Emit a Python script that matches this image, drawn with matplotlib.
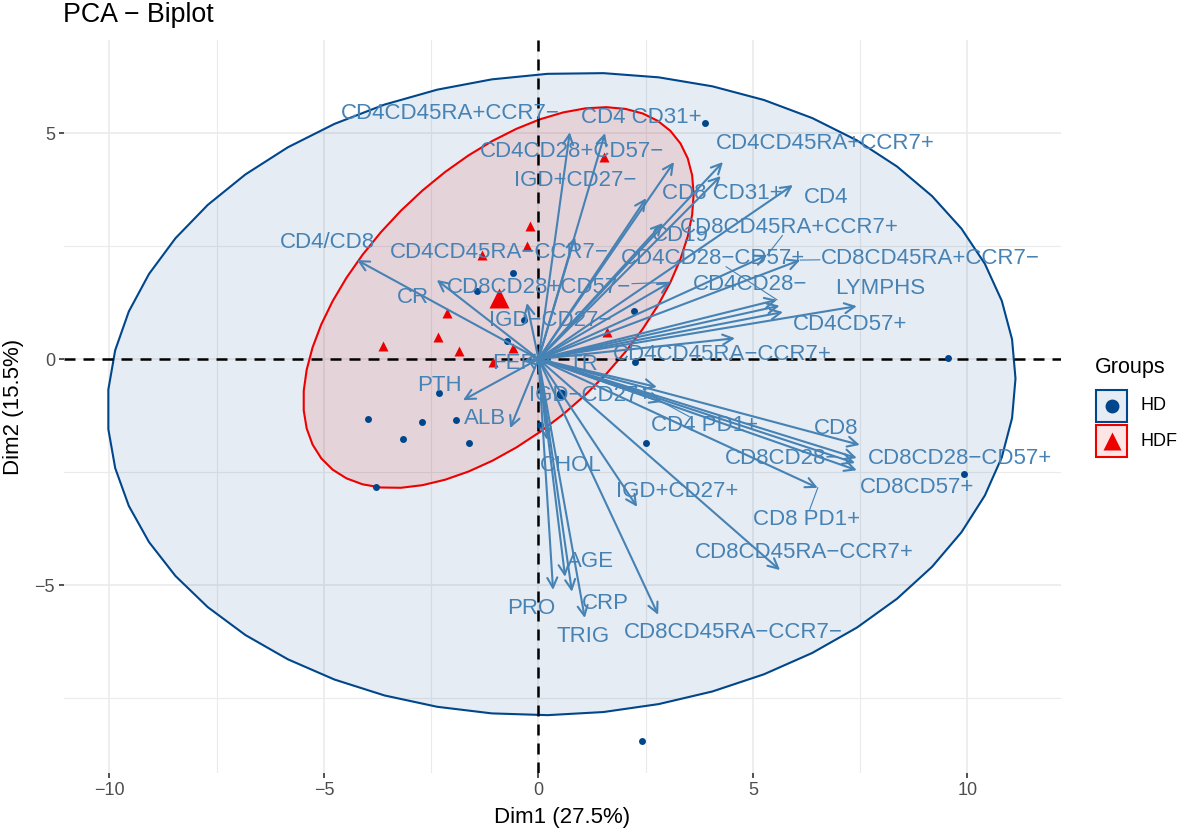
import numpy as np
import matplotlib
matplotlib.use("Agg")
import matplotlib.pyplot as plt
from matplotlib.patches import Polygon, Rectangle

plt.rcParams['font.family'] = ['Liberation Sans', 'DejaVu Sans']

# ---------------- data ----------------
var_names = ["CD4CD45RA+CCR7\u2212", "CD4 CD31+", "CD4CD45RA+CCR7+", "CD4CD28+CD57\u2212",
             "IGD+CD27\u2212", "CD8 CD31+", "CD4", "CD8CD45RA+CCR7+", "CD19", "CD4/CD8",
             "CD4CD45RA\u2212CCR7\u2212", "CD4CD28\u2212CD57+", "CD8CD45RA+CCR7\u2212",
             "CD8CD28+CD57\u2212", "CD4CD28\u2212", "LYMPHS", "CR", "IGD\u2212CD27\u2212",
             "CD4CD57+", "CD4CD45RA\u2212CCR7+", "FER", "TR", "PTH", "IGD\u2212CD27+", "ALB",
             "CD4 PD1+", "CD8", "CD8CD28\u2212", "CD8CD28\u2212CD57+", "CHOL", "CD8CD57+",
             "IGD+CD27+", "CD8 PD1+", "CD8CD45RA\u2212CCR7+", "AGE", "PRO", "CRP", "TRIG",
             "CD8CD45RA\u2212CCR7\u2212"]
var_x = [0.73, 1.55, 4.30, 3.16, 2.51, 4.25, 5.93, 5.33, 2.90, -4.23,
         0.85, 5.56, 6.10, 3.07, 5.62, 7.42, -2.37, -0.27, 5.70, 4.58,
         -0.35, 0.35, -1.76, 2.76, -0.66, 2.88, 7.49, 7.38, 7.42, 0.20,
         7.42, 2.30, 6.51, 5.63, 0.62, 0.34, 0.78, 1.08, 2.79]
var_y = [5.02, 5.00, 4.36, 4.36, 3.56, 4.05, 3.85, 2.30, 3.01, 2.19,
         2.70, 1.31, 2.19, 1.70, 1.18, 1.17, 1.75, 1.24, 1.04, 0.46,
         -0.05, -0.08, -0.91, -0.62, -1.53, -0.95, -1.90, -2.30, -2.19, -1.79,
         -2.46, -3.27, -2.85, -4.67, -4.82, -5.11, -5.15, -5.73, -5.66]

# label placement (repelled positions)
lab_x = [-2.06, 2.39, 6.68, 0.78, 0.85, 4.28, 6.70, 5.84, 3.30, -4.91,
         -0.92, 4.07, 9.13, 0.01, 4.93, 7.96, -2.93, 0.27, 7.26, 4.28,
         -0.55, 1.04, -2.30, 1.20, -1.25, 3.88, 6.93, 5.68, 9.83, 0.76,
         8.82, 3.23, 6.24, 6.19, 1.22, -0.17, 1.57, 1.04, 4.53]
lab_y = [5.44, 5.35, 4.76, 4.60, 3.94, 3.67, 3.58, 2.92, 2.74, 2.57,
         2.35, 2.23, 2.23, 1.59, 1.64, 1.57, 1.37, 0.86, 0.77, 0.09,
         -0.09, -0.11, -0.58, -0.80, -1.31, -1.46, -1.53, -2.19, -2.19, -2.35,
         -2.85, -2.94, -3.54, -4.29, -4.47, -5.51, -5.42, -6.15, -6.06]
# labels whose repel segment is visible
seg_labels = ["CD8CD45RA+CCR7+", "CD8CD45RA+CCR7\u2212", "CD4CD28\u2212CD57+",
              "CD8 PD1+", "CD4 PD1+", "CD8CD28+CD57\u2212"]

hd_x = [3.88, 9.55, 9.92, 2.41, 2.51, 2.23, 2.25, -0.59, -1.43, -0.34,
        -0.73, -2.32, -1.92, -2.72, -3.16, -1.62, -3.97, -3.79, 0.03]
hd_y = [5.22, 0.02, -2.54, -8.45, -1.86, 1.06, -0.07, 1.90, 1.50, 0.86,
        0.40, -0.75, -1.35, -1.39, -1.77, -1.86, -1.33, -2.83, -1.46]

hdf_x = [1.53, -0.20, -0.27, -1.32, -2.13, -2.34, -1.85, -3.62, -0.59, 1.60, -1.06]
hdf_y = [4.47, 2.94, 2.50, 2.30, 1.02, 0.49, 0.18, 0.29, 0.24, 0.60, -0.07]

groups = ["HD", "HDF"]
group_colors = ["#00468B", "#ED0000"]
var_color = "#4682B4"

x_ticks = [-10, -5, 0, 5, 10]
y_ticks = [-5, 0, 5]


def norm_ellipse(x, y, level=0.95, segments=51):
    x = np.asarray(x, float)
    y = np.asarray(y, float)
    n = len(x)
    center = np.array([x.mean(), y.mean()])
    S = np.cov(np.vstack([x, y]))
    dfd = n - 1
    qf = (dfd / 2.0) * ((1 - level) ** (-2.0 / dfd) - 1)  # F(2, dfd) quantile
    radius = np.sqrt(2 * qf)
    ang = np.arange(segments + 1) * 2 * np.pi / segments
    unit = np.column_stack([np.cos(ang), np.sin(ang)])
    R = np.linalg.cholesky(S).T
    return center + radius * (unit @ R)


# ---------------- figure ----------------
W, H = 1181, 832
fig = plt.figure(figsize=(W / 100, H / 100), dpi=100)
ax = fig.add_axes([64 / W, 1 - 773 / H, (1061 - 64) / W, (773 - 40) / H])
ax.set_xlim(-11.06, 12.18)
ax.set_ylim(-9.16, 7.06)
for s in ax.spines.values():
    s.set_visible(False)

ax.set_xticks(x_ticks)
ax.set_yticks(y_ticks)
ax.set_xticks([-7.5, -2.5, 2.5, 7.5], minor=True)
ax.set_yticks([-7.5, -2.5, 2.5], minor=True)
ax.grid(which='major', color='#EBEBEB', lw=1.2, zorder=0)
ax.grid(which='minor', color='#EBEBEB', lw=0.8, zorder=0)
ax.set_axisbelow(True)
ax.tick_params(which='major', length=3.5, width=1.2, color='#333333',
               labelcolor='#4D4D4D', labelsize=13, pad=3)
ax.tick_params(which='minor', length=0)

# ellipses
for gx, gy, col in [(hd_x, hd_y, group_colors[0]), (hdf_x, hdf_y, group_colors[1])]:
    pts = norm_ellipse(gx, gy)
    ax.add_patch(Polygon(pts, closed=True, facecolor=col, alpha=0.1, edgecolor='none', zorder=1))
    ax.add_patch(Polygon(pts, closed=True, facecolor='none', edgecolor=col, lw=1.5, zorder=2))

# reference lines
ax.axhline(0, color='black', lw=1.8, linestyle=(0, (4.4, 3.2)), zorder=3)
ax.axvline(0, color='black', lw=1.8, linestyle=(0, (4.4, 3.2)), zorder=3)

# individuals
ax.plot(hd_x, hd_y, 'o', color=group_colors[0], ms=5, mec='none', zorder=4)
ax.plot(hdf_x, hdf_y, '^', color=group_colors[1], ms=7, mec='none', zorder=4)
ax.plot([np.mean(hd_x)], [np.mean(hd_y)], 'o', color=group_colors[0], ms=7, mec='none', zorder=4)
ax.plot([np.mean(hdf_x)], [np.mean(hdf_y)], '^', color=group_colors[1], ms=14, mec='none', zorder=4)

# variables
for vx, vy in zip(var_x, var_y):
    ax.annotate("", xy=(vx, vy), xytext=(0, 0),
                arrowprops=dict(arrowstyle='->,head_length=0.6,head_width=0.3',
                                color=var_color, lw=1.5, shrinkA=0, shrinkB=0,
                                mutation_scale=12),
                zorder=5)
texts = {}
for name, lx, ly in zip(var_names, lab_x, lab_y):
    texts[name] = ax.text(lx, ly, name, color=var_color, fontsize=16,
                          ha='center', va='center', zorder=6)

# repel segments from label box edge to arrow tip
fig.canvas.draw()
renderer = fig.canvas.get_renderer()
for name in seg_labels:
    i = var_names.index(name)
    bb = texts[name].get_window_extent(renderer)
    cx, cy = (bb.x0 + bb.x1) / 2, (bb.y0 + bb.y1) / 2
    tx, ty = ax.transData.transform((var_x[i], var_y[i]))
    dx, dy = tx - cx, ty - cy
    hw, hh = bb.width / 2 + 1, bb.height / 2 - 2
    t = min(hw / abs(dx) if dx else np.inf, hh / abs(dy) if dy else np.inf)
    if t < 1:
        sx, sy = cx + dx * t, cy + dy * t
        p0 = ax.transData.inverted().transform((sx, sy))
        ax.plot([p0[0], var_x[i]], [p0[1], var_y[i]], color=var_color, lw=0.8, zorder=5)

# titles
fig.text(63 / W, 1 - 15 / H, "PCA \u2212 Biplot", fontsize=19.3, ha='left', va='center', color='black')
fig.text(562 / W, 1 - 817 / H, "Dim1 (27.5%)", fontsize=16, ha='center', va='center', color='black')
fig.text(14 / W, 1 - 407 / H, "Dim2 (15.5%)", fontsize=16, ha='center', va='center',
         rotation=90, color='black')

# legend (overlay in pixel coordinates)
lax = fig.add_axes([0, 0, 1, 1], facecolor='none')
lax.set_xlim(0, W)
lax.set_ylim(H, 0)
lax.axis('off')
lax.text(1095, 368, "Groups", fontsize=15.5, ha='left', va='center')
keys = [(390, 'o', 10), (425, '^', 13.5)]
for (ky, mk, ms), col, g in zip(keys, group_colors, groups):
    lax.add_patch(Rectangle((1096, ky), 31, 32, facecolor=col, alpha=0.1, edgecolor='none'))
    lax.add_patch(Rectangle((1096, ky), 31, 32, facecolor='none', edgecolor=col, lw=1.5))
    lax.plot([1111.5], [ky + 16], mk, color=col, ms=ms, mec='none')
    lax.text(1140, ky + 16, g, fontsize=13, ha='left', va='center')

fig.savefig("out.png", dpi=100, facecolor='white')
